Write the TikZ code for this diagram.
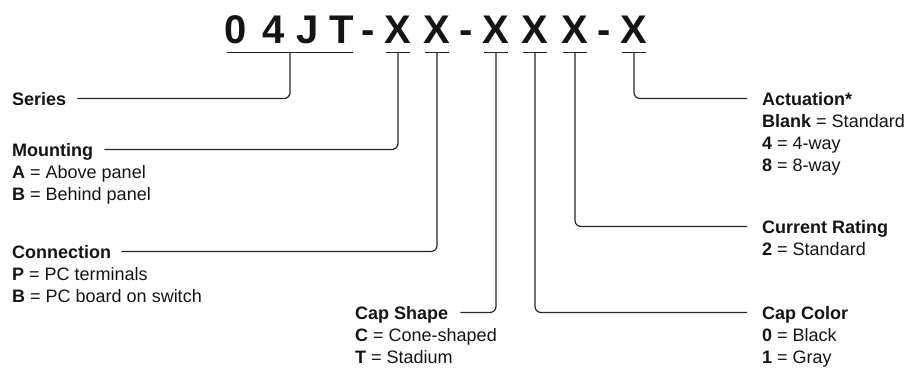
\documentclass[tikz,border=0pt]{standalone}
\usepackage{fontspec}
\setmainfont{Liberation Sans}
\usetikzlibrary{calc}
\begin{document}
\begin{tikzpicture}[x=1pt,y=-1pt,
  ch/.style={font=\fontsize{40}{48}\selectfont\bfseries, text=black!92, inner sep=0pt, anchor=base, text height=29pt, text depth=9pt},
  ttl/.style={font=\fontsize{18}{22}\selectfont\bfseries, text=black!92, inner sep=0pt, anchor=base west, text height=13pt, text depth=0pt},
  bdy/.style={font=\fontsize{18}{22}\selectfont, text=black!92, inner sep=0pt, anchor=base west},
  ul/.style={draw=black!85, line width=1.2pt},
  conn/.style={draw=black!85, line width=1.2pt, rounded corners=6pt}]
\useasboundingbox (0,0) rectangle (907,368);

% code characters
\node[ch] (c1) at (236,43) {0};
\node[ch] (c2) at (274,43) {4};
\node[ch] (c3) at (308,43) {J};
\node[ch] (c4) at (342,43) {T};
\node[ch] (d1) at (368,43) {-};
\node[ch] (x1) at (398,43) {X};
\node[ch] (x2) at (437,43) {X};
\node[ch] (d2) at (466,43) {-};
\node[ch] (x3) at (496,43) {X};
\node[ch] (x4) at (535,43) {X};
\node[ch] (x5) at (575,43) {X};
\node[ch] (d3) at (604,43) {-};
\node[ch] (x6) at (634,43) {X};

% underlines
\draw[ul] ([xshift=2pt]c1.south west) -- ([xshift=-1pt]c4.south east);
\coordinate (sU) at ($([xshift=2pt]c1.south west)!0.5!([xshift=-1pt]c4.south east)$);
\foreach \n in {x1,x2,x3,x4,x5,x6}{
  \draw[ul] ([xshift=-12pt]\n.south) -- ([xshift=12pt]\n.south);
}

% left labels
\node[ttl] (ser) at (12,105) {Series};
\node[ttl] (mnt) at (12,156) {Mounting};
\node[bdy] (mntb) at (12,178) {\vtop{\hbox{\textbf{A} = Above panel}\hbox{\textbf{B} = Behind panel}}};
\node[ttl] (con) at (12,258) {Connection};
\node[bdy] (conb) at (12,280) {\vtop{\hbox{\textbf{P} = PC terminals}\hbox{\textbf{B} = PC board on switch}}};
\node[ttl] (csh) at (355,319) {Cap Shape};
\node[bdy] (cshb) at (355,341) {\vtop{\hbox{\textbf{C} = Cone-shaped}\hbox{\textbf{T} = Stadium}}};

% right labels
\node[ttl] (act) at (762,105) {Actuation*};
\node[bdy] (actb) at (762,127) {\vtop{\hbox{\textbf{Blank} = Standard}\hbox{\textbf{4} = 4-way}\hbox{\textbf{8} = 8-way}}};
\node[ttl] (cur) at (762,233) {Current Rating};
\node[bdy] (curb) at (762,255) {\vtop{\hbox{\textbf{2} = Standard}}};
\node[ttl] (ccl) at (762,319) {Cap Color};
\node[bdy] (cclb) at (762,341) {\vtop{\hbox{\textbf{0} = Black}\hbox{\textbf{1} = Gray}}};

% connectors
\draw[conn, shorten >=11pt] (sU) |- (ser.east);
\draw[conn, shorten >=11pt] (x1.south) |- (mnt.east);
\draw[conn, shorten >=10pt] (x2.south) |- (con.east);
\draw[conn, shorten >=12pt] (x3.south) |- (csh.east);
\draw[conn, shorten >=15pt] (x4.south) |- (ccl.west);
\draw[conn, shorten >=15pt] (x5.south) |- (cur.west);
\draw[conn, shorten >=15pt] (x6.south) |- (act.west);
\end{tikzpicture}
\end{document}
